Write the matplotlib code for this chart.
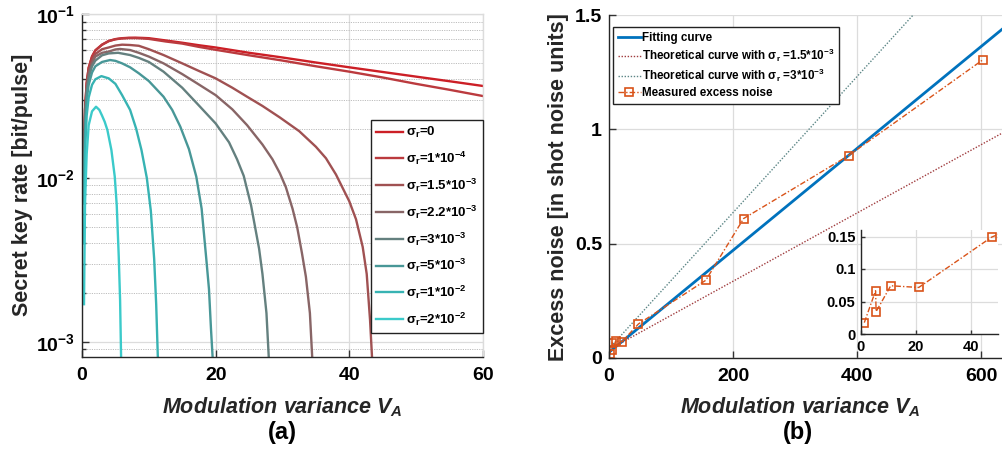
import numpy as np
import matplotlib
matplotlib.use('Agg')
import matplotlib.pyplot as plt
from matplotlib.ticker import FixedLocator, FixedFormatter, NullFormatter, LogLocator

plt.rcParams.update({
    'font.family': ['Liberation Sans', 'DejaVu Sans'],
    'font.weight': 'bold',
    'mathtext.fontset': 'custom',
    'mathtext.rm': 'Liberation Sans:bold',
    'mathtext.it': 'Liberation Sans:italic:bold',
    'mathtext.bf': 'Liberation Sans:bold',
    'mathtext.sf': 'Liberation Sans:bold',
    'mathtext.default': 'rm',
    'axes.linewidth': 1.0,
})

# ---------------- Panel (a): secret key rate vs modulation variance ----------------
va_s0 = [0.3, 0.45, 0.7, 1, 1.5, 2, 3, 4, 5, 6, 7, 8, 9, 10, 12.5, 15, 17.5, 20, 25, 30, 35, 40, 45, 50, 55, 60]
skr_s0 = [0.012, 0.026, 0.038, 0.047, 0.055, 0.060, 0.065, 0.0685, 0.0703, 0.0712, 0.0716, 0.0717, 0.0715,
          0.0712, 0.069, 0.0668, 0.0645, 0.0625, 0.058, 0.0543, 0.0506, 0.0473, 0.0443, 0.0415, 0.0389, 0.0364]

va_s1 = [0.3, 0.45, 0.7, 1, 1.5, 2, 3, 4, 5, 6, 7, 8, 9, 10, 12.5, 15, 17.5, 20, 25, 30, 35, 40, 45, 50, 55, 60]
skr_s1 = [0.012, 0.026, 0.038, 0.047, 0.055, 0.060, 0.065, 0.0683, 0.0701, 0.071, 0.0713, 0.0713, 0.071,
          0.0705, 0.068, 0.066, 0.063, 0.0605, 0.056, 0.052, 0.048, 0.0445, 0.041, 0.0375, 0.0345, 0.0316]

va_s2 = [0.3, 0.45, 0.7, 1, 1.5, 2, 3, 4, 5, 6, 7.2, 8.5, 10, 12.2, 15, 17.2, 20, 22.5, 24.7, 27, 29.6, 32.5,
         35, 36.5, 38, 40, 41, 42, 42.6, 43.1, 43.4, 43.7]
skr_s2 = [0.011, 0.024, 0.036, 0.045, 0.052, 0.057, 0.061, 0.0625, 0.0642, 0.065, 0.0647, 0.064, 0.061, 0.0562,
          0.050, 0.0455, 0.0405, 0.0355, 0.0313, 0.0275, 0.0234, 0.0193, 0.0155, 0.0132, 0.0105, 0.0072, 0.0056,
          0.0038, 0.0026, 0.00136, 0.0008, 0.0002]

va_s3 = [0.3, 0.45, 0.7, 1, 1.5, 2, 3, 4, 5, 5.7, 7.2, 8.5, 10, 12.2, 15, 17.2, 20, 22.5, 24.7, 27, 28.5, 29.6,
         30.5, 31.5, 32.2, 32.9, 33.5, 34.1, 34.45, 34.7]
skr_s3 = [0.010, 0.023, 0.035, 0.043, 0.050, 0.055, 0.058, 0.059, 0.0608, 0.0612, 0.0603, 0.058, 0.055, 0.050,
          0.043, 0.0378, 0.032, 0.0262, 0.021, 0.016, 0.013, 0.0107, 0.0088, 0.0065, 0.0050, 0.0035, 0.0025,
          0.0015, 0.0008, 0.0002]

va_s4 = [0.3, 0.45, 0.7, 1, 1.5, 2, 3, 4, 5.4, 7.2, 8.5, 10, 12.2, 15, 17.2, 20, 22, 23.2, 24.2, 25.3, 26.5, 27,
         27.6, 27.95, 28.3]
skr_s4 = [0.009, 0.022, 0.033, 0.041, 0.048, 0.052, 0.056, 0.0575, 0.058, 0.0562, 0.054, 0.051, 0.0445, 0.0355,
          0.0285, 0.0215, 0.0165, 0.013, 0.0103, 0.0068, 0.0037, 0.0026, 0.0015, 0.0008, 0.0002]

va_s5 = [0.3, 0.45, 0.7, 1, 1.5, 2, 3, 4.2, 5, 6, 7.2, 8.5, 10, 12.2, 13.5, 14.7, 16, 17.1, 17.9, 18.6, 19.0,
         19.3, 19.55, 19.8]
skr_s5 = [0.007, 0.019, 0.030, 0.037, 0.044, 0.048, 0.051, 0.0524, 0.0518, 0.050, 0.0473, 0.0435, 0.039, 0.0313,
          0.026, 0.0206, 0.015, 0.0102, 0.0065, 0.0032, 0.0021, 0.0012, 0.0008, 0.0002]

va_s6 = [0.3, 0.45, 0.7, 1, 1.5, 2, 2.9, 4, 5, 6, 7.2, 8.1, 8.9, 9.7, 10.3, 10.8, 11.1, 11.35, 11.6]
skr_s6 = [0.004, 0.014, 0.024, 0.031, 0.037, 0.040, 0.0418, 0.0405, 0.0375, 0.032, 0.026, 0.020, 0.0148, 0.010,
          0.0063, 0.0032, 0.0017, 0.0008, 0.0002]

va_s7 = [0.3, 0.45, 0.7, 1, 1.5, 2.1, 2.6, 3, 3.4, 3.8, 4.4, 4.9, 5.2, 5.5, 5.7, 5.85, 6.0]
skr_s7 = [0.0017, 0.007, 0.014, 0.021, 0.0255, 0.0272, 0.026, 0.024, 0.022, 0.0196, 0.0148, 0.0102, 0.0068,
          0.0033, 0.0018, 0.0008, 0.0002]

labels_a = [r'$\sigma_r$=0', r'$\sigma_r$=1*10$^{-4}$', r'$\sigma_r$=1.5*10$^{-3}$', r'$\sigma_r$=2.2*10$^{-3}$',
            r'$\sigma_r$=3*10$^{-3}$', r'$\sigma_r$=5*10$^{-3}$', r'$\sigma_r$=1*10$^{-2}$', r'$\sigma_r$=2*10$^{-2}$']
colors_a = ['#cc1f26', '#bb3a3e', '#a05152', '#886566', '#64807f', '#489797', '#37b3b3', '#3bcaca']

# ---------------- Panel (b): excess noise vs modulation variance ----------------
fit_va = [0, 640]
fit_xi = [0.025, 1.452]
th15_va = [0, 640]
th15_xi = [0.037, 0.993]
th30_va = [0, 640]
th30_xi = [0.041, 1.946]
meas_va = [1.2, 5.3, 5.5, 10.8, 21.0, 47.5, 156, 217, 386, 603]
meas_xi = [0.0175, 0.0665, 0.0345, 0.0742, 0.0716, 0.149, 0.34, 0.61, 0.885, 1.305]

W, H = 1003, 449
fig = plt.figure(figsize=(W / 100, H / 100), dpi=100)

def frac(x0, y0, x1, y1):
    return [x0 / W, 1 - y1 / H, (x1 - x0) / W, (y1 - y0) / H]

GRID = '#dcdcdc'

# ---- left axes ----
ax1 = fig.add_axes(frac(82, 14, 483, 357))
series = [(va_s0, skr_s0), (va_s1, skr_s1), (va_s2, skr_s2), (va_s3, skr_s3),
          (va_s4, skr_s4), (va_s5, skr_s5), (va_s6, skr_s6), (va_s7, skr_s7)]
for (v, r), c, lab in zip(series, colors_a, labels_a):
    ax1.plot(v, r, color=c, lw=1.7, label=lab, solid_joinstyle='round')
ax1.set_yscale('log')
ax1.set_xlim(0, 60)
ax1.set_ylim(8.1e-4, 0.1)
ax1.xaxis.set_major_locator(FixedLocator([0, 20, 40, 60]))
ax1.yaxis.set_major_locator(FixedLocator([1e-3, 1e-2, 1e-1]))
ax1.yaxis.set_major_formatter(FixedFormatter([r'$10^{-3}$', r'$10^{-2}$', r'$10^{-1}$']))
ax1.yaxis.set_minor_locator(LogLocator(base=10, subs=np.arange(2, 10)))
ax1.yaxis.set_minor_formatter(NullFormatter())
ax1.grid(which='major', color=GRID, lw=0.9, ls='-')
ax1.grid(which='minor', axis='y', color='#bdbdbd', lw=0.7, ls=(0, (1.2, 1.2)))
ax1.tick_params(which='both', direction='in', labelsize=14, pad=7, width=1.0, color='#333333')
ax1.tick_params(which='major', length=5)
ax1.tick_params(which='minor', length=3)
ax1.tick_params(axis='y', pad=5)
for s in ['top', 'right']:
    ax1.spines[s].set_color(GRID)
for s in ['left', 'bottom']:
    ax1.spines[s].set_color('#262626')
ax1.set_axisbelow(True)
leg1 = ax1.legend(loc='upper right', bbox_to_anchor=(1.0, 0.691), borderaxespad=0, fontsize=9.5,
                  handlelength=2.0, labelspacing=0.72, handletextpad=0.25, fancybox=False,
                  framealpha=1, edgecolor='#222222', borderpad=0.4)
leg1.get_frame().set_linewidth(1.0)

# ---- right axes ----
ax2 = fig.add_axes(frac(609, 15, 1003, 358))
ax2.plot(fit_va, fit_xi, color='#0072BD', lw=2.0, label='Fitting curve')
ax2.plot(th15_va, th15_xi, color='#a03c3e', lw=1.0, ls=(0, (1, 1.2)),
         label=r'Theoretical curve with $\sigma_r$ =1.5*10$^{-3}$')
ax2.plot(th30_va, th30_xi, color='#5c8686', lw=1.0, ls=(0, (1, 1.2)),
         label=r'Theoretical curve with $\sigma_r$ =3*10$^{-3}$')
ax2.plot(meas_va, meas_xi, color='#D95319', lw=1.0, ls=(0, (4, 1.5, 1, 1.5)), marker='s', ms=5.5, mfc='none',
         mew=1.2, label='Measured excess noise')
ax2.set_xlim(0, 635)
ax2.set_ylim(0, 1.5)
ax2.xaxis.set_major_locator(FixedLocator([0, 200, 400, 600]))
ax2.yaxis.set_major_locator(FixedLocator([0, 0.5, 1.0, 1.5]))
ax2.yaxis.set_major_formatter(FixedFormatter(['0', '0.5', '1', '1.5']))
ax2.grid(which='major', color=GRID, lw=0.9, ls='-')
ax2.tick_params(which='both', direction='in', labelsize=14, pad=7, length=5, width=1.0, color='#333333')
ax2.tick_params(axis='y', pad=5)
for s in ['top', 'right']:
    ax2.spines[s].set_visible(False)
for s in ['left', 'bottom']:
    ax2.spines[s].set_color('#262626')
ax2.set_axisbelow(True)
leg2 = ax2.legend(loc='upper left', bbox_to_anchor=(0.01, 0.965), borderaxespad=0, fontsize=8.4,
                  handlelength=2.0, labelspacing=0.25, handletextpad=0.1, fancybox=False,
                  framealpha=1, edgecolor='#222222', borderpad=0.4)
leg2.get_frame().set_linewidth(1.0)

# ---- inset ----
ax3 = fig.add_axes(frac(861, 230, 998.5, 334))
ax3.plot(meas_va, meas_xi, color='#D95319', lw=1.0, ls=(0, (4, 1.5, 1, 1.5)), marker='s', ms=5.5, mfc='none',
         mew=1.2)
ax3.set_xlim(0, 50)
ax3.set_ylim(0, 0.16)
ax3.xaxis.set_major_locator(FixedLocator([0, 20, 40]))
ax3.yaxis.set_major_locator(FixedLocator([0, 0.05, 0.1, 0.15]))
ax3.yaxis.set_major_formatter(FixedFormatter(['0', '0.05', '0.1', '0.15']))
ax3.grid(which='major', color=GRID, lw=0.9, ls='-')
ax3.tick_params(which='both', direction='in', labelsize=10.5, pad=4, length=3, width=1.0, color='#333333')
for s in ['top', 'right']:
    ax3.spines[s].set_visible(False)
for s in ['left', 'bottom']:
    ax3.spines[s].set_color('#262626')
ax3.set_axisbelow(True)

# ---- labels ----
def ftxt(x, y, s, **kw):
    fig.text(x / W, 1 - y / H, s, **kw)

ftxt(23, 185, 'Secret key rate [bit/pulse]', rotation=90, ha='center', va='center', fontsize=15.5, color='#262626')
ftxt(559, 187, 'Excess noise [in shot noise units]', rotation=90, ha='center', va='center', fontsize=15.5,
     color='#262626')
ftxt(282, 407, r'$\mathit{Modulation\ variance\ V_A}$', ha='center', va='center', fontsize=15.5, color='#262626')
ftxt(800, 407, r'$\mathit{Modulation\ variance\ V_A}$', ha='center', va='center', fontsize=15.5, color='#262626')
ftxt(282, 433, '(a)', ha='center', va='center', fontsize=17, color='black')
ftxt(798, 433, '(b)', ha='center', va='center', fontsize=17, color='black')

fig.savefig('out.png', dpi=100)
